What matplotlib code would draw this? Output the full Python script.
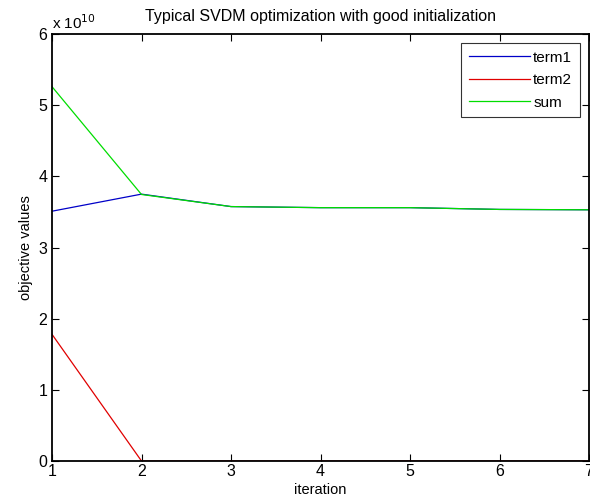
import matplotlib.pyplot as plt
import numpy as np

plt.rcParams['font.family'] = ['Liberation Sans', 'DejaVu Sans']

# objective values, in units of 1e10
iteration = [1, 2, 3, 4, 5, 6, 7]
term1 = [3.51, 3.75, 3.575, 3.56, 3.56, 3.535, 3.53]
term2 = [1.78, 0.0, 0.0, 0.0, 0.0, 0.0, 0.0]
total = [5.26, 3.745, 3.575, 3.56, 3.56, 3.535, 3.53]

fig = plt.figure(figsize=(5.9, 5.04), dpi=100)
ax = fig.add_axes([52 / 590, 43 / 504, 537 / 590, 427 / 504])

ax.plot(iteration, term1, color='#0000c8', lw=0.9, label='term1')
ax.plot(iteration, term2, color='#e00000', lw=0.9, label='term2')
ax.plot(iteration, total, color='#00dd00', lw=0.9, label='sum')

ax.set_xlim(1, 7)
ax.set_ylim(0, 6)
ax.set_xticks(iteration)
ax.set_yticks([0, 1, 2, 3, 4, 5, 6])
ax.tick_params(direction='in', top=True, right=True, labelsize=11.5, length=5, width=0.8)
ax.tick_params(axis='x', pad=2)
for s in ax.spines.values():
    s.set_linewidth(1.3)
    s.set_zorder(5)

ax.set_xlabel('iteration', fontsize=10.5, labelpad=3)
ax.set_ylabel('objective values', fontsize=10.5, labelpad=4)
ax.set_title('Typical SVDM optimization with good initialization', fontsize=11.5, pad=9)
ax.text(0.0, 1.005, r'x 10$^{10}$', transform=ax.transAxes, fontsize=11, va='bottom', ha='left')

leg = ax.legend(loc='upper right', fontsize=11, frameon=True, fancybox=False,
                edgecolor='black', handlelength=4.0, borderaxespad=0.6,
                labelspacing=0.55, handletextpad=0.2, borderpad=0.5)
leg.get_frame().set_linewidth(0.8)

fig.savefig('out.png', dpi=100)
